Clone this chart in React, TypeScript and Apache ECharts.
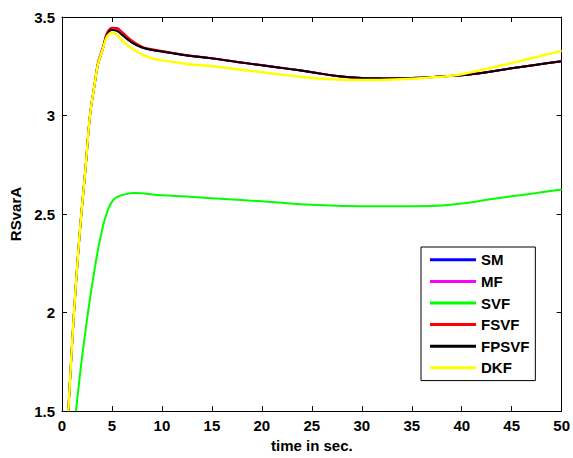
import React, { useEffect, useRef } from "react";
import * as echarts from "echarts";

const xTicks = [0, 5, 10, 15, 20, 25, 30, 35, 40, 45, 50];
const yTicks = [1.5, 2, 2.5, 3, 3.5];

// FPSVF (black) – SM and MF coincide with it
const tMain = [0.63, 1.2, 1.8, 2.4, 2.8, 3.3, 3.6, 4.1, 4.5, 5.0, 5.5, 6.0, 7.0, 8.0, 9.0, 10, 12.5, 15, 17.5, 20, 22.5, 25, 27.5, 30, 32.5, 35, 37.5, 40, 42.5, 45, 47.5, 50];
const vFPSVF = [1.5, 2.0, 2.42, 2.76, 3.0, 3.17, 3.26, 3.34, 3.41, 3.434, 3.43, 3.41, 3.37, 3.345, 3.333, 3.325, 3.305, 3.29, 3.272, 3.255, 3.238, 3.22, 3.2, 3.19, 3.188, 3.19, 3.197, 3.205, 3.22, 3.24, 3.258, 3.275];
const vSM = [1.5, 2.0, 2.42, 2.76, 3.0, 3.17, 3.26, 3.34, 3.41, 3.436, 3.432, 3.412, 3.372, 3.346, 3.334, 3.325, 3.305, 3.29, 3.272, 3.255, 3.238, 3.22, 3.2, 3.19, 3.188, 3.19, 3.197, 3.205, 3.22, 3.24, 3.258, 3.275];
const vMF = [1.5, 2.0, 2.42, 2.76, 3.0, 3.17, 3.26, 3.34, 3.41, 3.436, 3.433, 3.413, 3.373, 3.347, 3.334, 3.326, 3.306, 3.291, 3.273, 3.256, 3.239, 3.221, 3.201, 3.19, 3.188, 3.19, 3.197, 3.205, 3.22, 3.24, 3.258, 3.275];
const vFSVF = [1.5, 2.0, 2.42, 2.76, 3.0, 3.17, 3.27, 3.35, 3.42, 3.446, 3.444, 3.425, 3.38, 3.35, 3.336, 3.327, 3.306, 3.29, 3.272, 3.255, 3.238, 3.22, 3.2, 3.19, 3.188, 3.19, 3.197, 3.205, 3.22, 3.24, 3.258, 3.275];
const vDKF = [1.5, 2.0, 2.42, 2.76, 3.0, 3.17, 3.26, 3.34, 3.40, 3.42, 3.41, 3.38, 3.34, 3.31, 3.29, 3.28, 3.262, 3.25, 3.235, 3.22, 3.205, 3.19, 3.183, 3.18, 3.182, 3.187, 3.195, 3.21, 3.237, 3.266, 3.297, 3.328];

// SVF (green)
const tSVF = [1.4, 2.0, 2.6, 3.2, 3.8, 4.45, 5.2, 6.3, 7.3, 10, 12.5, 15, 17.5, 20, 22.5, 25, 27.5, 30, 32.5, 35, 37.5, 40, 42.5, 45, 47.5, 50];
const vSVF = [1.5, 1.77, 2.0, 2.2, 2.37, 2.5, 2.575, 2.6, 2.607, 2.595, 2.589, 2.58, 2.572, 2.565, 2.555, 2.547, 2.542, 2.54, 2.54, 2.54, 2.542, 2.553, 2.572, 2.59, 2.607, 2.625];

const seriesNames = ["SM", "MF", "SVF", "FSVF", "FPSVF", "DKF"];
const seriesColors = ["#0000ff", "#ff00ff", "#00ff00", "#ff0000", "#000000", "#ffff00"];

const zip = (t: number[], v: number[]) => t.map((x, i) => [x, v[i]]);

export default function App() {
  const ref = useRef<HTMLDivElement>(null);
  useEffect(() => {
    if (!ref.current) return;
    const chart = echarts.init(ref.current, undefined, { renderer: "svg" });
    const font = "'Liberation Sans', Arial, sans-serif";
    const datasets = [
      zip(tMain, vSM),
      zip(tMain, vMF),
      zip(tSVF, vSVF),
      zip(tMain, vFSVF),
      zip(tMain, vFPSVF),
      zip(tMain, vDKF),
    ];
    const axisCommon = {
      axisLine: { show: true, onZero: false, lineStyle: { color: "#000", width: 1 } },
      axisTick: { show: true, inside: true, length: 5, lineStyle: { color: "#000" } },
      splitLine: { show: false },
    };
    chart.setOption({
      animation: false,
      backgroundColor: "#fff",
      grid: { left: 62, right: 9, top: 17, bottom: 45, containLabel: false },
      xAxis: [
        {
          type: "value",
          min: xTicks[0],
          max: xTicks[xTicks.length - 1],
          interval: 5,
          position: "bottom",
          name: "time in sec.",
          nameLocation: "middle",
          nameGap: 26,
          nameTextStyle: { color: "#000", fontFamily: font, fontWeight: "bold", fontSize: 15 },
          axisLabel: { color: "#000", fontFamily: font, fontWeight: "bold", fontSize: 15, margin: 7 },
          ...axisCommon,
        },
        {
          type: "value",
          min: xTicks[0],
          max: xTicks[xTicks.length - 1],
          interval: 5,
          position: "top",
          axisLabel: { show: false },
          ...axisCommon,
        },
      ],
      yAxis: [
        {
          type: "value",
          min: yTicks[0],
          max: yTicks[yTicks.length - 1],
          interval: 0.5,
          position: "left",
          name: "RSvarA",
          nameLocation: "middle",
          nameGap: 37,
          nameTextStyle: { color: "#000", fontFamily: font, fontWeight: "bold", fontSize: 15 },
          axisLabel: { color: "#000", fontFamily: font, fontWeight: "bold", fontSize: 15, margin: 7 },
          ...axisCommon,
        },
        {
          type: "value",
          min: yTicks[0],
          max: yTicks[yTicks.length - 1],
          interval: 0.5,
          position: "right",
          axisLabel: { show: false },
          ...axisCommon,
        },
      ],
      legend: {
        orient: "vertical",
        left: 421,
        top: 247,
        width: 118,
        padding: [5, 6, 5, 9],
        itemWidth: 46,
        itemHeight: 3,
        itemGap: 6,
        icon: "rect",
        backgroundColor: "#fff",
        borderColor: "#000",
        borderWidth: 1,
        textStyle: { color: "#000", fontFamily: font, fontWeight: "bold", fontSize: 15, lineHeight: 15.6, padding: [0, 0, 0, 0] },
        data: seriesNames,
      },
      series: seriesNames.map((name, i) => ({
        name,
        type: "line",
        data: datasets[i],
        smooth: 0.4,
        symbol: "none",
        clip: true,
        z: i === 5 ? 3 : 2,
        color: seriesColors[i],
        lineStyle: { color: seriesColors[i], width: i === 5 ? 2.5 : 2 },
      })),
    });
    return () => chart.dispose();
  }, []);
  return <div ref={ref} style={{ width: 573, height: 458, position: "absolute", left: 0, top: 0 }} />;
}
